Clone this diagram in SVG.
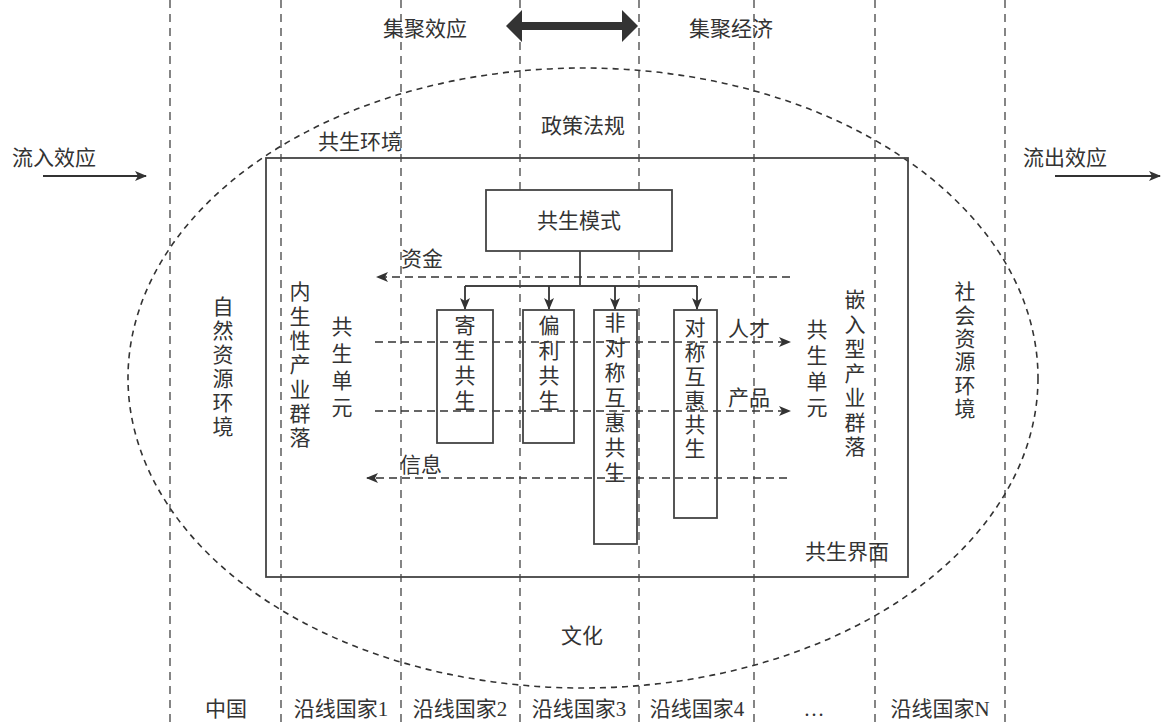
<svg xmlns="http://www.w3.org/2000/svg" width="1167" height="726" viewBox="0 0 1167 726">
<style>
.t{font-family:"Liberation Serif","Noto Sans CJK SC",serif;font-size:21px;fill:#333}
.v{font-family:"Noto Sans CJK SC",sans-serif;font-size:21px;fill:#333;writing-mode:vertical-rl}
.m{text-anchor:middle}
.grid{stroke:#444;stroke-width:1.3;stroke-dasharray:8,6;fill:none}
.solid{stroke:#444;stroke-width:1.8;fill:none}
.flow{stroke:#333;stroke-width:1.5;stroke-dasharray:8,5;fill:none}
</style>
<defs>
<marker id="ah" viewBox="0 0 12 10" refX="11" refY="5" markerWidth="12" markerHeight="10" markerUnits="userSpaceOnUse" orient="auto">
<path d="M0,0 L12,5 L0,10 L3,5 z" fill="#333"/>
</marker>
</defs>
<rect width="1167" height="726" fill="#fff"/>
<g id="columns">
<path class="grid" d="M170,0V726M281,0V726M401,0V726M520,0V726M639,0V726M754,0V726M875,0V726M1005,0V726"/>
</g>
<g id="ellipse">
<ellipse cx="583" cy="378" rx="455" ry="310" stroke="#333" stroke-width="1.6" stroke-dasharray="6,5" fill="none"/>
</g>
<g id="top-arrow">
<path d="M506,26 L522,10 L522,22 L622,22 L622,10 L638,26 L622,42 L622,30 L522,30 L522,42 z" fill="#333"/>
<text class="t m" x="425" y="36">集聚效应</text>
<text class="t m" x="731" y="36">集聚经济</text>
</g>
<g id="inflow">
<text class="t" x="12" y="165">流入效应</text>
<line x1="43" y1="176" x2="146" y2="176" stroke="#333" stroke-width="1.8" marker-end="url(#ah)"/>
</g>
<g id="outflow">
<text class="t" x="1023" y="165">流出效应</text>
<line x1="1055" y1="176" x2="1160" y2="176" stroke="#333" stroke-width="1.8" marker-end="url(#ah)"/>
</g>
<g id="environment">
<rect class="solid" x="266" y="158" width="642" height="419"/>
<text class="t" x="318" y="149">共生环境</text>
<text class="t m" x="583" y="133">政策法规</text>
<text class="t m" x="582" y="643">文化</text>
<text class="t" x="805" y="559">共生界面</text>
</g>
<g id="mode">
<rect x="486" y="190" width="186" height="61" fill="#fff" stroke="#444" stroke-width="1.8"/>
<text class="t m" x="579" y="228">共生模式</text>
</g>
<g id="connectors">
<path class="solid" d="M580,251V286M465,286H697"/>
<line x1="465" y1="286" x2="465" y2="309" stroke="#333" stroke-width="1.8" marker-end="url(#ah)"/>
<line x1="549" y1="286" x2="549" y2="309" stroke="#333" stroke-width="1.8" marker-end="url(#ah)"/>
<line x1="615" y1="286" x2="615" y2="309" stroke="#333" stroke-width="1.8" marker-end="url(#ah)"/>
<line x1="697" y1="286" x2="697" y2="309" stroke="#333" stroke-width="1.8" marker-end="url(#ah)"/>
<line class="flow" x1="790" y1="277" x2="377" y2="277" marker-end="url(#ah)"/>
<line class="flow" x1="375" y1="342" x2="790" y2="342" marker-end="url(#ah)"/>
<line class="flow" x1="375" y1="411" x2="790" y2="411" marker-end="url(#ah)"/>
<line class="flow" x1="787" y1="478" x2="367" y2="478" marker-end="url(#ah)"/>
<text class="t" x="401" y="266">资金</text>
<text class="t" x="728" y="336">人才</text>
<text class="t" x="728" y="405">产品</text>
<text class="t" x="400" y="472">信息</text>
</g>
<g id="parasitic">
<rect class="solid" x="437" y="310" width="56" height="133"/>
<text class="v" x="465" y="315" letter-spacing="4">寄生共生</text>
</g>
<g id="commensal">
<rect class="solid" x="523" y="310" width="51" height="133"/>
<text class="v" x="549" y="315" letter-spacing="4">偏利共生</text>
</g>
<g id="asym">
<rect class="solid" x="594" y="310" width="43" height="234"/>
<text class="v" x="615" y="312" letter-spacing="4">非对称互惠共生</text>
</g>
<g id="sym">
<rect class="solid" x="674" y="310" width="43" height="208"/>
<text class="v" x="695" y="317" letter-spacing="3.2">对称互惠共生</text>
</g>
<g id="left-labels">
<text class="v" x="223" y="296" letter-spacing="3">自然资源环境</text>
<text class="v" x="300" y="281" letter-spacing="3.3">内生性产业群落</text>
<text class="v" x="342" y="316" letter-spacing="6">共生单元</text>
</g>
<g id="right-labels">
<text class="v" x="817" y="319" letter-spacing="5">共生单元</text>
<text class="v" x="855" y="289" letter-spacing="3.5">嵌入型产业群落</text>
<text class="v" x="965" y="281" letter-spacing="2.3">社会资源环境</text>
</g>
<g id="countries">
<text class="t m" x="226" y="716">中国</text>
<text class="t m" x="341" y="716">沿线国家1</text>
<text class="t m" x="460" y="716">沿线国家2</text>
<text class="t m" x="579" y="716">沿线国家3</text>
<text class="t m" x="697" y="716">沿线国家4</text>
<text class="t m" x="814" y="716">…</text>
<text class="t m" x="940" y="716">沿线国家N</text>
</g>
</svg>
